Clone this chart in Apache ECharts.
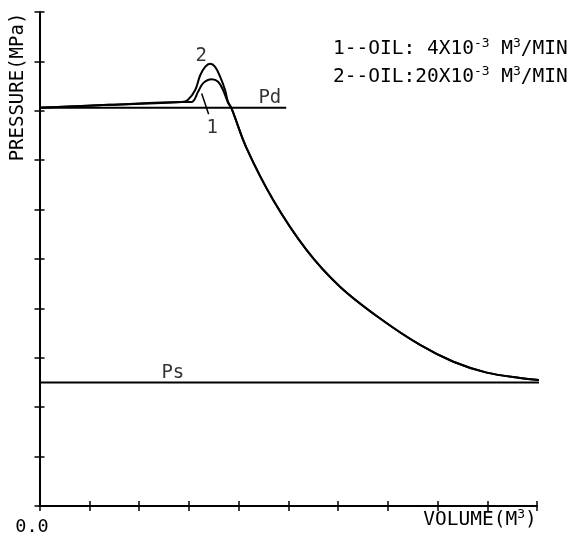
<!DOCTYPE html>
<html>
<head>
<meta charset="utf-8">
<script src="https://cdn.jsdelivr.net/npm/echarts@6/dist/echarts.min.js"></script>
<style>
  html, body { margin: 0; background: #fff; }
  #chart { width: 574px; height: 537px; }
</style>
</head>
<body>
<div id="chart"></div>
<script>
// values in plotted axis units (10 divisions each way)
const riseVol = [0, 1.4, 2.86];
const riseP = [8.06, 8.12, 8.18];
const bump1Vol = [3.06, 3.19, 3.29, 3.46, 3.59, 3.69, 3.79];
const bump1P = [8.18, 8.39, 8.56, 8.64, 8.59, 8.42, 8.16];
const bump2Vol = [2.98, 3.13, 3.23, 3.33, 3.43, 3.53, 3.63, 3.73, 3.79];
const bump2P = [8.22, 8.42, 8.72, 8.89, 8.95, 8.89, 8.69, 8.42, 8.18];
const fallVol = [3.86, 4.16, 4.70, 5.37, 6.04, 6.84, 7.65, 8.32, 8.99, 9.66, 10.06];
const fallP = [8.05, 7.25, 6.19, 5.18, 4.44, 3.80, 3.26, 2.92, 2.70, 2.59, 2.55];
const pdVol = [0, 4.96];
const pdP = [8.06, 8.06];
const psVol = [0, 10.06];
const psP = [2.5, 2.5];
const leaderVol = [3.26, 3.40];
const leaderP = [8.35, 7.93];

// where the curve tags sit
const notes = [
  { text: '2', at: [3.25, 9.10] },
  { text: '1', at: [3.47, 7.65] },
  { text: 'Pd', at: [4.63, 8.26] },
  { text: 'Ps', at: [2.68, 2.69] }
];

const FONT = 'DejaVu Sans Mono';

function pts(xs, ys) {
  return xs.map((x, i) => [x, ys[i]]);
}

const curve1 = pts(riseVol, riseP).concat(pts(bump1Vol, bump1P), pts(fallVol, fallP));
const curve2 = pts(riseVol, riseP).concat(pts(bump2Vol, bump2P), pts(fallVol, fallP));

function axis(pos, inside, showLine, label) {
  return {
    type: 'value', position: pos, min: 0, max: 10, interval: 1,
    axisLine: { show: showLine, onZero: false, lineStyle: { color: '#000', width: 2 } },
    axisTick: { inside: inside, length: 5, lineStyle: { color: '#000', width: 1.5 } },
    axisLabel: label || { show: false },
    splitLine: { show: false }
  };
}

function line(name, data, w) {
  return {
    name: name, type: 'line', data: data, symbol: 'none', clip: false,
    smooth: 0.35, lineStyle: { color: '#000', width: w }
  };
}

// normal + superscript text runs
const richText = {
  n: { fontFamily: FONT, fontSize: 19.5, color: '#000', verticalAlign: 'top', lineHeight: 22 },
  s: { fontFamily: FONT, fontSize: 13, color: '#000', verticalAlign: 'top', lineHeight: 22, padding: [-2, 0, 0, 0] }
};

function richLabel(x, y, text, align) {
  return {
    type: 'text', x: x, y: y,
    style: { text: text, rich: richText, textAlign: align, textVerticalAlign: 'middle' }
  };
}

let myChart = echarts.init(document.getElementById('chart'));
let option = {
  animation: false,
  backgroundColor: '#fff',
  grid: { left: 39.5, right: 37, top: 12, bottom: 31 },
  xAxis: [
    axis('bottom', true, true),
    axis('bottom', false, false, {
      show: true, margin: 12, color: '#000', fontFamily: FONT, fontSize: 18.5,
      padding: [0, 15, 0, 0],
      formatter: v => (v === 0 ? '0.0' : '')
    })
  ],
  yAxis: [axis('left', true, true), axis('left', false, false)],
  series: [
    line('oil 4e-3', curve1, 2),
    line('oil 20e-3', curve2, 2),
    Object.assign(line('Pd', pts(pdVol, pdP), 2), { smooth: false }),
    Object.assign(line('Ps', pts(psVol, psP), 2), { smooth: false }),
    Object.assign(line('leader', pts(leaderVol, leaderP), 1.5), { smooth: false }),
    {
      type: 'scatter', symbolSize: 0, clip: false,
      data: notes.map(n => ({ value: n.at, name: n.text })),
      label: {
        show: true, position: 'inside', formatter: p => p.name,
        color: '#000', fontFamily: FONT, fontSize: 19
      }
    }
  ],
  graphic: [
    {
      type: 'text', x: 18, y: 87, rotation: Math.PI / 2,
      style: {
        text: 'PRESSURE(MPa)', fill: '#000', font: '19px "' + FONT + '"',
        textAlign: 'center', textVerticalAlign: 'middle'
      }
    },
    richLabel(480, 521, '{n|VOLUME(M}{s|3}{n|)}', 'center'),
    richLabel(333, 50, '{n|1--OIL: 4X10}{s|-3}{n| M}{s|3}{n|/MIN}', 'left'),
    richLabel(333, 78, '{n|2--OIL:20X10}{s|-3}{n| M}{s|3}{n|/MIN}', 'left')
  ]
};
myChart.setOption(option);
</script>
</body>
</html>
